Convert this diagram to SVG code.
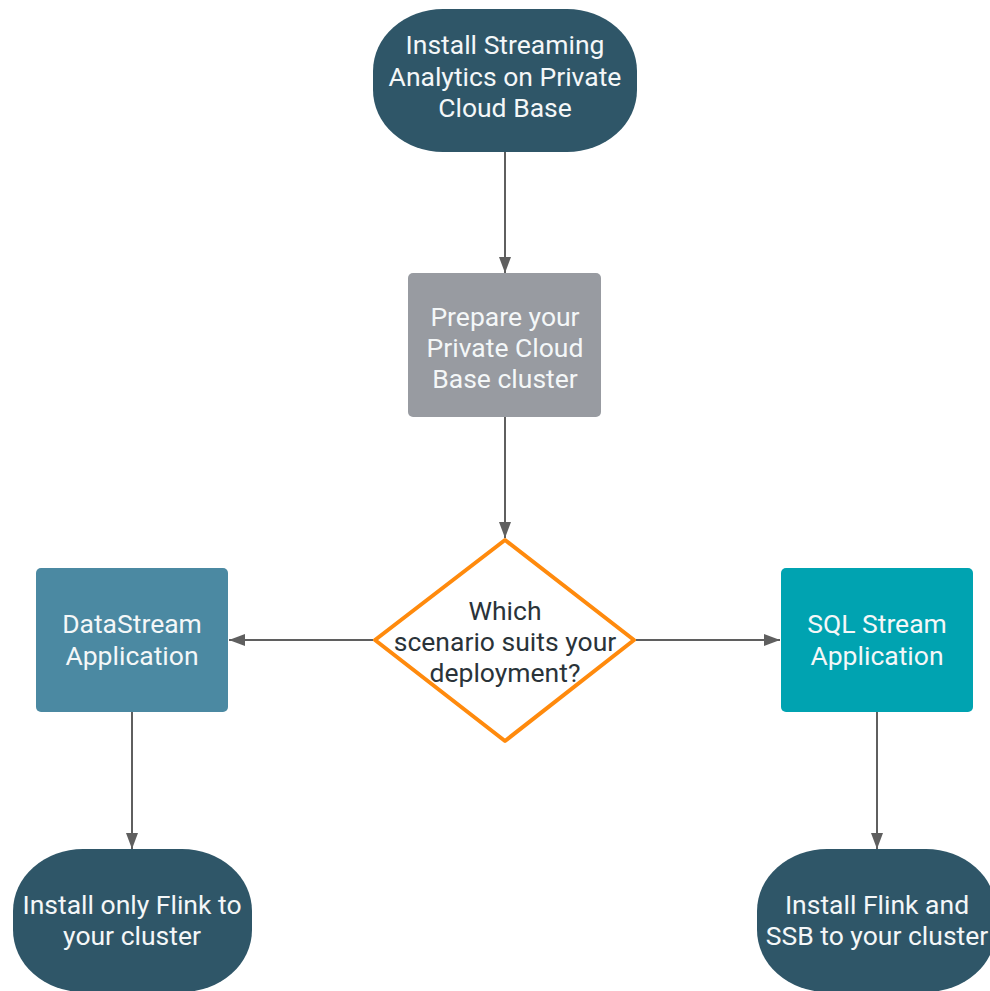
<svg xmlns="http://www.w3.org/2000/svg" width="990" height="991" viewBox="0 0 990 991">
<style>
text{font-family:Roboto,"Liberation Sans",sans-serif;font-size:26.5px;text-anchor:middle}
.w{fill:#f4f7f8}
.d{fill:#2a3339}
.c{stroke:#5f5f5f;stroke-width:2;fill:none}
</style>
<defs>
<marker id="ah" viewBox="0 0 16 12" refX="16" refY="6" markerWidth="16" markerHeight="12" markerUnits="userSpaceOnUse" orient="auto">
<path d="M0,0 L16,6 L0,12 Z" fill="#5f5f5f"/>
</marker>
</defs>
<rect width="990" height="991" fill="#ffffff"/>
<g id="connectors">
<line class="c" x1="505" y1="152" x2="505" y2="273" marker-end="url(#ah)"/>
<line class="c" x1="505" y1="417" x2="505" y2="538" marker-end="url(#ah)"/>
<line class="c" x1="373" y1="640" x2="229" y2="640" marker-end="url(#ah)"/>
<line class="c" x1="636" y1="640" x2="780" y2="640" marker-end="url(#ah)"/>
<line class="c" x1="132" y1="712" x2="132" y2="849" marker-end="url(#ah)"/>
<line class="c" x1="877" y1="712" x2="877" y2="849" marker-end="url(#ah)"/>
</g>
<g id="start">
<rect x="373" y="9" width="264" height="143" rx="70" ry="62" fill="#2f5668"/>
<text class="w" x="505" y="54">Install Streaming</text>
<text class="w" x="505" y="86">Analytics on Private</text>
<text class="w" x="505" y="117">Cloud Base</text>
</g>
<g id="prepare">
<rect x="408" y="273" width="193" height="144" rx="5" fill="#989ba1"/>
<text class="w" x="505" y="326">Prepare your</text>
<text class="w" x="505" y="357">Private Cloud</text>
<text class="w" x="505" y="388">Base cluster</text>
</g>
<g id="decision">
<path d="M505,540 L634,640 L505,741 L375,640 Z" fill="#ffffff" stroke="#ff8a0d" stroke-width="4" stroke-linejoin="round"/>
<text class="d" x="505" y="620">Which</text>
<text class="d" x="505" y="651">scenario suits your</text>
<text class="d" x="505" y="682">deployment?</text>
</g>
<g id="datastream">
<rect x="36" y="568" width="192" height="144" rx="5" fill="#4b89a2"/>
<text class="w" x="132" y="633">DataStream</text>
<text class="w" x="132" y="665">Application</text>
</g>
<g id="sqlstream">
<rect x="781" y="568" width="192" height="144" rx="5" fill="#00a3b1"/>
<text class="w" x="877" y="633">SQL Stream</text>
<text class="w" x="877" y="665">Application</text>
</g>
<g id="flink-only">
<rect x="13" y="849" width="239" height="143" rx="70" ry="62" fill="#2f5668"/>
<text class="w" x="132" y="914">Install only Flink to</text>
<text class="w" x="132" y="945">your cluster</text>
</g>
<g id="flink-ssb">
<rect x="757" y="849" width="239" height="143" rx="70" ry="62" fill="#2f5668"/>
<text class="w" x="877" y="914">Install Flink and</text>
<text class="w" x="877" y="945">SSB to your cluster</text>
</g>
</svg>
